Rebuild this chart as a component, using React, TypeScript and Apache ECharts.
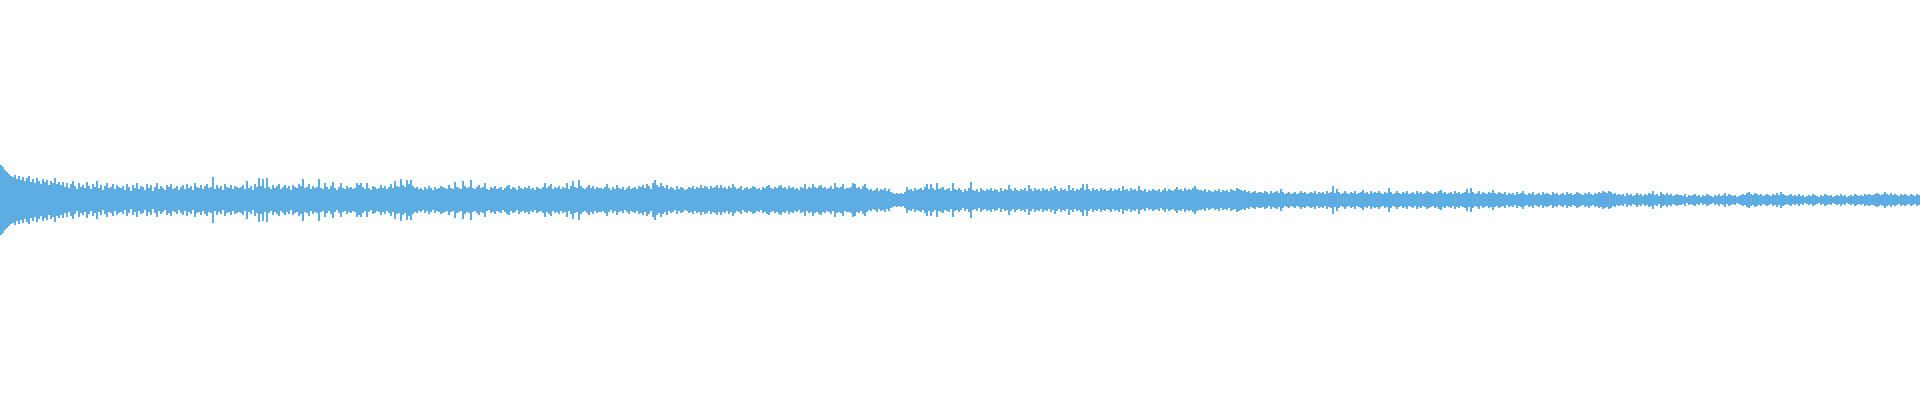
import React, { useEffect, useRef } from "react";
import * as echarts from "echarts";

// Amplitude envelope of the waveform (one value per sample bucket).
const amplitude: number[] = [
  35,33,30,28,26,24,23,25,21,24,20,23,19,22,24,18,21,17,22,19,16,21,18,20,15,19,17,22,16,18,
  15,18,13,17,12,16,19,14,11,17,13,15,12,18,14,11,16,13,19,12,15,10,14,17,12,13,16,11,15,13,
  12,14,10,16,13,9,15,12,17,11,14,13,10,16,12,15,9,13,17,11,14,12,10,15,13,16,11,12,14,10,
  13,15,11,16,12,14,10,17,13,12,15,11,14,16,12,13,23,11,15,12,14,10,16,13,12,15,11,14,13,12,
  13,15,11,19,12,14,10,16,13,22,14,21,12,22,13,11,15,12,14,16,11,13,15,12,14,10,15,13,12,16,
  14,21,12,13,16,11,14,12,13,21,12,11,17,13,11,14,18,12,10,13,17,12,11,14,12,13,11,12,17,15,
  17,13,11,17,12,10,14,13,11,12,15,12,14,11,13,16,12,19,14,13,21,15,13,20,16,20,14,12,13,11,
  12,10,13,11,14,12,10,13,11,12,14,13,12,11,15,12,11,18,13,12,11,19,14,12,13,20,12,11,13,15,
  12,13,17,11,10,13,12,14,11,12,13,10,12,14,15,11,13,12,10,14,12,11,13,12,14,11,12,10,13,12,
  11,13,17,12,14,16,11,13,12,14,11,13,12,17,11,14,19,13,12,20,14,12,11,13,15,12,14,11,13,12,
  12,11,13,16,12,10,13,11,15,12,11,13,10,12,14,11,12,13,11,14,13,15,12,16,14,11,17,20,15,13,
  17,14,12,15,11,13,12,10,14,11,13,12,10,11,13,12,14,11,13,12,15,12,14,13,11,14,12,13,15,12,
  15,12,13,11,14,12,16,13,11,12,14,10,12,13,11,12,14,13,11,12,10,13,12,14,15,12,11,13,12,14,
  15,12,13,11,14,12,13,11,12,10,13,12,16,11,13,12,16,13,12,14,15,12,13,11,12,14,11,17,13,12,
  13,16,11,12,12,13,17,16,12,13,11,14,16,12,10,11,9,10,12,9,11,10,12,9,11,8,7,6,7,6,
  7,6,8,13,10,11,9,12,10,11,12,10,13,16,11,16,12,10,17,11,12,13,10,11,12,9,17,11,10,12,
  10,8,11,9,12,18,10,9,11,8,12,10,9,11,10,12,9,11,10,8,12,9,11,10,15,11,9,12,10,9,
  11,10,12,9,15,11,9,12,10,11,9,12,10,11,9,12,10,14,11,9,12,10,11,9,15,10,12,9,11,10,
  12,16,10,16,11,9,12,10,11,9,12,10,11,9,10,12,9,11,10,12,9,14,10,11,9,12,10,11,9,14,
  10,9,11,8,10,9,11,10,9,11,8,10,12,9,11,10,9,11,13,10,11,9,12,10,11,10,12,14,11,10,
  10,9,11,8,10,9,8,10,9,11,8,10,9,10,8,11,10,9,12,11,10,9,10,8,9,7,8,9,7,8,
  8,7,9,8,6,9,7,8,9,7,11,8,6,7,8,6,7,8,6,7,9,7,8,6,7,8,7,9,6,8,
  7,8,6,9,7,8,14,7,11,8,6,7,9,7,6,8,7,9,6,7,8,10,7,8,6,9,7,8,7,9,
  7,6,8,7,12,8,6,7,9,7,6,8,7,9,6,7,8,6,9,7,8,6,7,9,8,7,6,8,7,9,
  10,7,8,6,7,8,6,9,7,8,6,7,8,11,7,12,8,6,7,9,6,8,7,6,8,7,10,7,6,8,
  7,6,8,5,7,6,7,5,8,6,7,9,6,5,7,6,8,5,6,7,5,8,6,7,6,5,8,6,7,5,
  6,7,5,8,6,7,5,6,8,7,6,5,7,6,8,6,5,7,6,8,7,9,8,7,9,8,6,7,5,6,
  5,6,4,7,5,6,4,5,7,5,6,4,6,5,7,6,9,5,6,4,8,6,5,7,5,6,4,5,6,5,
  5,4,6,3,5,4,5,6,4,5,3,5,4,6,5,4,3,5,4,6,4,5,7,4,6,5,4,5,3,4,
  5,6,5,7,8,6,5,7,6,5,6,4,5,6,5,4,6,5,7,5,8,6,5,4,5,6,4,5,4,6,
  4,5,3,4,5,4,6,5,4,3,5,4,6,5,4,5,3,4,5,4,6,4,5,3,4,5,4,6,5,4,
  5,4,6,5,6,5,5,6,7,6,5,6,8,6,5,7,5,6,5,4,6,5,6,5,4,6,5,4,6,5,
];

const samples: string[] = amplitude.map((_, i) => String(i));

const WAVE_COLOR = "#5dade2";

export default function App() {
  const ref = useRef<HTMLDivElement>(null);

  useEffect(() => {
    if (!ref.current) return;
    const chart = echarts.init(ref.current, undefined, { renderer: "svg" });
    chart.setOption({
      animation: false,
      grid: { left: 0, right: 0, top: 0, bottom: 0 },
      tooltip: { show: false },
      xAxis: {
        type: "category",
        data: samples,
        show: false,
        boundaryGap: true,
      },
      yAxis: {
        type: "value",
        min: -200,
        max: 200,
        show: false,
      },
      series: [
        {
          type: "bar",
          data: amplitude,
          barCategoryGap: 0,
          barGap: "-100%",
          itemStyle: { color: WAVE_COLOR },
          silent: true,
        },
        {
          type: "bar",
          data: amplitude.map((v) => -v),
          barCategoryGap: 0,
          barGap: "-100%",
          itemStyle: { color: WAVE_COLOR },
          silent: true,
        },
      ],
    });
    return () => chart.dispose();
  }, []);

  return (
    <div
      ref={ref}
      style={{ position: "absolute", left: 0, top: 0, width: 1920, height: 400 }}
    />
  );
}
